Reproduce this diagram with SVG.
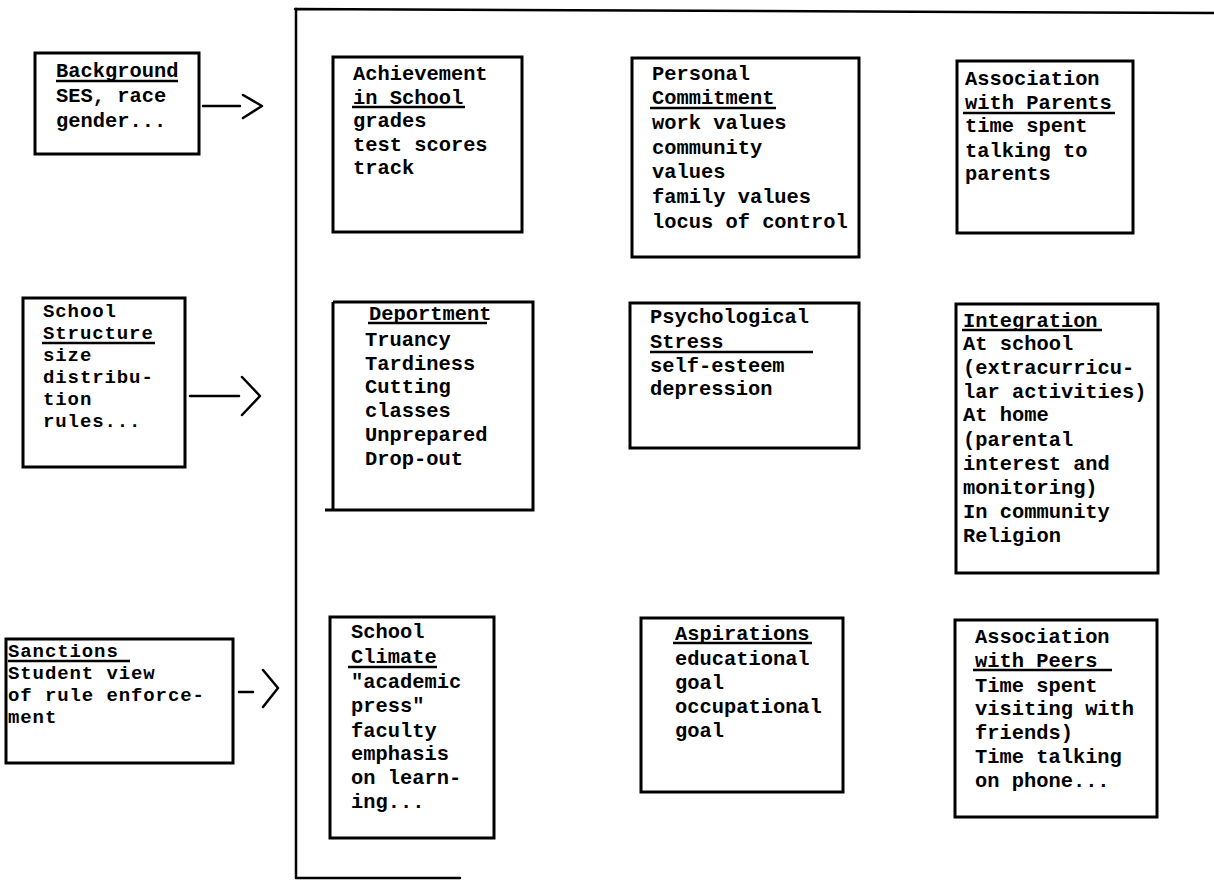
<svg xmlns="http://www.w3.org/2000/svg" width="1214" height="885" viewBox="0 0 1214 885">
<style>
.box{fill:none;stroke:#000;stroke-width:3}
.t{font-family:"Liberation Mono","DejaVu Sans Mono",monospace;font-weight:bold;font-size:20.4px;fill:#000}
.s{font-size:19px;letter-spacing:0.9px}
.u{stroke:#000;stroke-width:2.5}
.c{fill:none;stroke:#000;stroke-width:2.5;stroke-linecap:round;stroke-linejoin:round}
</style>
<rect width="1214" height="885" fill="#fff"/>
<g id="frame">
<path class="c" d="M296,9 V878 M295,9 L1214,13 M296,878 H460"/>
</g>
<g id="background">
<rect class="box" x="35" y="53" width="164" height="101"/>
<text class="t" x="56" y="77">Background</text>
<line class="u" x1="56" y1="81" x2="178" y2="81"/>
<text class="t" x="56" y="102">SES, race</text>
<text class="t" x="56" y="127">gender...</text>
</g>
<g id="school-structure">
<rect class="box" x="23" y="298" width="162" height="169"/>
<text class="t s" x="43" y="317">School</text>
<text class="t s" x="43" y="339">Structure</text>
<line class="u" x1="42" y1="343" x2="155" y2="343"/>
<text class="t s" x="43" y="361">size</text>
<text class="t s" x="43" y="383">distribu-</text>
<text class="t s" x="43" y="405">tion</text>
<text class="t s" x="43" y="427">rules...</text>
</g>
<g id="sanctions">
<rect class="box" x="6" y="639" width="227" height="124"/>
<text class="t s" x="8" y="657">Sanctions</text>
<line class="u" x1="8" y1="661" x2="130" y2="661"/>
<text class="t s" x="8" y="679">Student view</text>
<text class="t s" x="8" y="701">of rule enforce-</text>
<text class="t s" x="8" y="723">ment</text>
</g>
<g id="achievement">
<rect class="box" x="333" y="57" width="189" height="175"/>
<text class="t" x="353" y="80">Achievement</text>
<text class="t" x="353" y="104">in School</text>
<line class="u" x1="352" y1="107" x2="465" y2="107"/>
<text class="t" x="353" y="127">grades</text>
<text class="t" x="353" y="151">test scores</text>
<text class="t" x="353" y="174">track</text>
</g>
<g id="personal-commitment">
<rect class="box" x="632" y="58" width="227" height="199"/>
<text class="t" x="652" y="80">Personal</text>
<text class="t" x="652" y="104">Commitment</text>
<line class="u" x1="650" y1="108" x2="776" y2="108"/>
<text class="t" x="652" y="129">work values</text>
<text class="t" x="652" y="154">community</text>
<text class="t" x="652" y="178">values</text>
<text class="t" x="652" y="203">family values</text>
<text class="t" x="652" y="228">locus of control</text>
</g>
<g id="assoc-parents">
<rect class="box" x="957" y="61" width="176" height="172"/>
<text class="t" x="965" y="85">Association</text>
<text class="t" x="965" y="109">with Parents</text>
<line class="u" x1="963" y1="113" x2="1115" y2="113"/>
<text class="t" x="965" y="132">time spent</text>
<text class="t" x="965" y="157">talking to</text>
<text class="t" x="965" y="180">parents</text>
</g>
<g id="deportment">
<path class="box" d="M333,302 H533 V510 H325"/>
<path class="box" d="M333,302 V510"/>
<text class="t" x="369" y="320">Deportment</text>
<line class="u" x1="368" y1="323" x2="487" y2="323"/>
<text class="t" x="365" y="346">Truancy</text>
<text class="t" x="365" y="370">Tardiness</text>
<text class="t" x="365" y="393">Cutting</text>
<text class="t" x="365" y="417">classes</text>
<text class="t" x="365" y="441">Unprepared</text>
<text class="t" x="365" y="465">Drop-out</text>
</g>
<g id="psych-stress">
<rect class="box" x="630" y="303" width="229" height="145"/>
<text class="t" x="650" y="323">Psychological</text>
<text class="t" x="650" y="348">Stress</text>
<line class="u" x1="650" y1="352" x2="813" y2="352"/>
<text class="t" x="650" y="372">self-esteem</text>
<text class="t" x="650" y="395">depression</text>
</g>
<g id="integration">
<rect class="box" x="956" y="304" width="202" height="269"/>
<text class="t" x="963" y="327">Integration</text>
<line class="u" x1="962" y1="330" x2="1102" y2="330"/>
<text class="t" x="963" y="350">At school</text>
<text class="t" x="963" y="374">(extracurricu-</text>
<text class="t" x="963" y="398">lar activities)</text>
<text class="t" x="963" y="421">At home</text>
<text class="t" x="963" y="446">(parental</text>
<text class="t" x="963" y="470">interest and</text>
<text class="t" x="963" y="494">monitoring)</text>
<text class="t" x="963" y="518">In community</text>
<text class="t" x="963" y="542">Religion</text>
</g>
<g id="school-climate">
<rect class="box" x="330" y="617" width="164" height="221"/>
<text class="t" x="351" y="638">School</text>
<text class="t" x="351" y="663">Climate</text>
<line class="u" x1="348" y1="667" x2="437" y2="667"/>
<text class="t" x="351" y="688">"academic</text>
<text class="t" x="351" y="712">press"</text>
<text class="t" x="351" y="737">faculty</text>
<text class="t" x="351" y="760">emphasis</text>
<text class="t" x="351" y="784">on learn-</text>
<text class="t" x="351" y="808">ing...</text>
</g>
<g id="aspirations">
<rect class="box" x="641" y="618" width="202" height="174"/>
<text class="t" x="675" y="640">Aspirations</text>
<line class="u" x1="673" y1="643" x2="812" y2="643"/>
<text class="t" x="675" y="665">educational</text>
<text class="t" x="675" y="689">goal</text>
<text class="t" x="675" y="713">occupational</text>
<text class="t" x="675" y="737">goal</text>
</g>
<g id="assoc-peers">
<rect class="box" x="955" y="620" width="202" height="197"/>
<text class="t" x="975" y="643">Association</text>
<text class="t" x="975" y="667">with Peers</text>
<line class="u" x1="973" y1="670" x2="1112" y2="670"/>
<text class="t" x="975" y="692">Time spent</text>
<text class="t" x="975" y="715">visiting with</text>
<text class="t" x="975" y="739">friends)</text>
<text class="t" x="975" y="763">Time talking</text>
<text class="t" x="975" y="787">on phone...</text>
</g>
<g id="connectors">
<path class="c" d="M203,106 H240 M243,95 L262,106 L243,118"/>
<path class="c" d="M190,396 H239 M242,377 L260,396 L242,415"/>
<path class="c" d="M239,692 H253 M263,670 L278,688 L263,707"/>
</g>
</svg>
